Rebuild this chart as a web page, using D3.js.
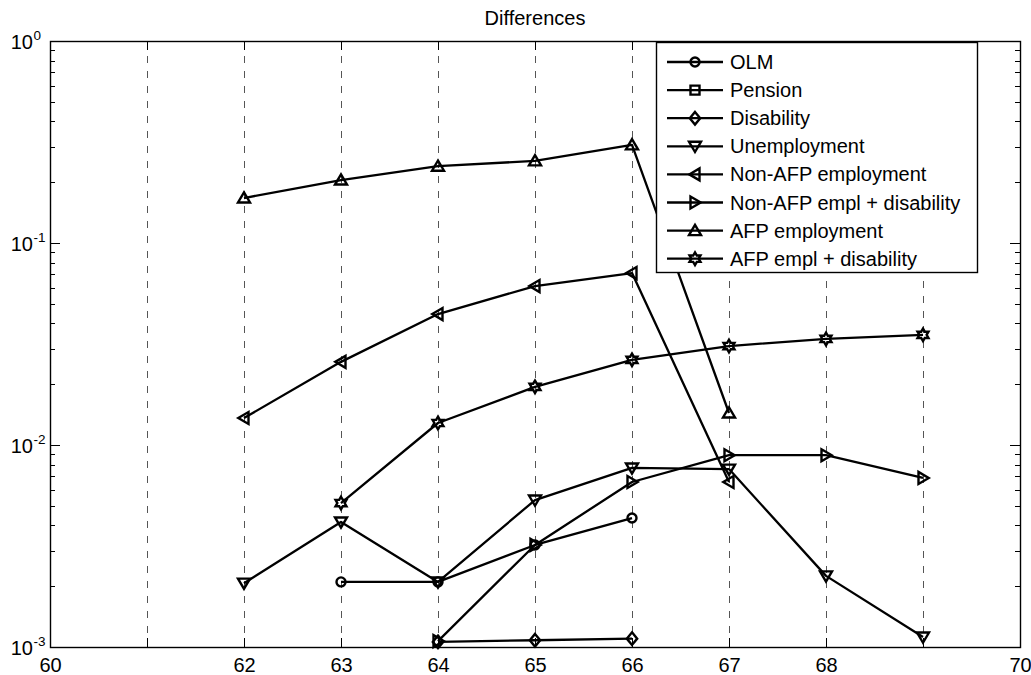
<!DOCTYPE html>
<html>
<head>
<meta charset="utf-8">
<script src="https://cdn.jsdelivr.net/npm/d3@7"></script>
<style>
  html, body { margin: 0; padding: 0; background: #fff; }
  svg { display: block; font-family: "Liberation Sans", Arial, Helvetica, sans-serif; }
</style>
</head>
<body>
<svg id="chart" width="1031" height="675"></svg>
<script>
// ---------------- data ----------------
const chartTitle = "Differences";
const seriesNames = ["OLM", "Pension", "Disability", "Unemployment",
  "Non-AFP employment", "Non-AFP empl + disability", "AFP employment", "AFP empl + disability"];
const seriesMarkers = ["circle", "square", "diamond", "triDown", "triLeft", "triRight", "triUp", "hexagram"];

const olmAges = [63, 64, 65, 66];
const olmValues = [0.0021, 0.0021, 0.0032, 0.00435];

const pensionAges = [];
const pensionValues = [];

const disabilityAges = [64, 65, 66];
const disabilityValues = [0.00106, 0.00108, 0.0011];

const unemploymentAges = [62, 63, 64, 65, 66, 67, 68, 69];
const unemploymentValues = [0.00207, 0.00416, 0.0021, 0.00534, 0.0077, 0.0076, 0.00225, 0.00112];

const nonAfpEmplAges = [62, 63, 64, 65, 66, 67];
const nonAfpEmplValues = [0.0136, 0.0258, 0.0445, 0.0612, 0.071, 0.00656];

const nonAfpEmplDisAges = [64, 65, 66, 67, 68, 69];
const nonAfpEmplDisValues = [0.00107, 0.0032, 0.00656, 0.0089, 0.0089, 0.00687];

const afpEmplAges = [62, 63, 64, 65, 66, 67];
const afpEmplValues = [0.167, 0.205, 0.240, 0.255, 0.306, 0.0144];

const afpEmplDisAges = [63, 64, 65, 66, 67, 68, 69];
const afpEmplDisValues = [0.00516, 0.01285, 0.0194, 0.0264, 0.0309, 0.0335, 0.0351];

const xTickLabels = [60, 62, 63, 64, 65, 66, 67, 68, 70];
const xGridValues = [61, 62, 63, 64, 65, 66, 67, 68, 69];
const yMajorTicks = [1e-3, 1e-2, 1e-1, 1];
const yTickExponents = ["-3", "-2", "-1", "0"];

// ---------------- layout ----------------
const svg = d3.select("#chart");
const L = 50, R = 1020, T = 41, B = 647;
const x = d3.scaleLinear().domain([60, 70]).range([L, R]);
const y = d3.scaleLog().domain([1e-3, 1]).range([B, T]);

const allSeries = [
  [olmAges, olmValues], [pensionAges, pensionValues], [disabilityAges, disabilityValues],
  [unemploymentAges, unemploymentValues], [nonAfpEmplAges, nonAfpEmplValues],
  [nonAfpEmplDisAges, nonAfpEmplDisValues], [afpEmplAges, afpEmplValues], [afpEmplDisAges, afpEmplDisValues]
].map((s, i) => ({ name: seriesNames[i], marker: seriesMarkers[i],
  points: s[0].map((a, j) => ({ age: a, value: s[1][j] })) }));

// background
svg.append("rect").attr("x", L).attr("y", T).attr("width", R - L).attr("height", B - T).attr("fill", "#fff");

// grid
svg.append("g").selectAll("line").data(xGridValues).join("line")
  .attr("x1", d => x(d) + 0.5).attr("x2", d => x(d) + 0.5)
  .attr("y1", T).attr("y2", B)
  .attr("stroke", "#555").attr("stroke-width", 1).attr("stroke-dasharray", "7,8");

// minor y ticks
const yMinor = [];
[1e-3, 1e-2, 1e-1].forEach(p => { for (let k = 2; k <= 9; k++) yMinor.push(p * k); });

const axisG = svg.append("g").attr("stroke", "#000").attr("stroke-width", 1);
axisG.selectAll(".ymin-l").data(yMinor).join("line")
  .attr("x1", L).attr("x2", L + 5).attr("y1", d => Math.round(y(d)) + 0.5).attr("y2", d => Math.round(y(d)) + 0.5);
axisG.selectAll(".ymin-r").data(yMinor).join("line")
  .attr("x1", R).attr("x2", R - 5).attr("y1", d => Math.round(y(d)) + 0.5).attr("y2", d => Math.round(y(d)) + 0.5);
axisG.selectAll(".ymaj-l").data(yMajorTicks).join("line")
  .attr("x1", L).attr("x2", L + 10).attr("y1", d => Math.round(y(d)) + 0.5).attr("y2", d => Math.round(y(d)) + 0.5);
axisG.selectAll(".ymaj-r").data(yMajorTicks).join("line")
  .attr("x1", R).attr("x2", R - 10).attr("y1", d => Math.round(y(d)) + 0.5).attr("y2", d => Math.round(y(d)) + 0.5);
// x ticks top & bottom
const xTickAll = [60].concat(xGridValues).concat([70]);
axisG.selectAll(".xt-b").data(xTickAll).join("line")
  .attr("x1", d => x(d) + 0.5).attr("x2", d => x(d) + 0.5).attr("y1", B).attr("y2", B - 9);
axisG.selectAll(".xt-t").data(xTickAll).join("line")
  .attr("x1", d => x(d) + 0.5).attr("x2", d => x(d) + 0.5).attr("y1", T).attr("y2", T + 9);

// axis box
svg.append("rect").attr("x", L + 0.5).attr("y", T + 0.5).attr("width", R - L).attr("height", B - T)
  .attr("fill", "none").attr("stroke", "#000").attr("stroke-width", 1.4);

// x tick labels via d3 axis
const xAxis = d3.axisBottom(x).tickValues(xTickLabels).tickFormat(d3.format("d")).tickSize(0).tickPadding(11);
const xg = svg.append("g").attr("transform", `translate(0,${B})`).call(xAxis);
xg.select(".domain").remove();
xg.selectAll("text").attr("font-size", 20).attr("fill", "#000")
  .attr("font-family", "Liberation Sans, Arial, sans-serif");

// y tick labels (10^k)
const yl = svg.append("g").attr("fill", "#000");
yMajorTicks.forEach((v, i) => {
  const yy = y(v);
  yl.append("text").attr("x", 33).attr("y", yy + 8).attr("text-anchor", "end")
    .attr("font-size", 20).text("10");
  yl.append("text").attr("x", 33.5).attr("y", yy - 1).attr("text-anchor", "start")
    .attr("font-size", 13.5).text(yTickExponents[i]);
});

// title
svg.append("text").attr("x", (L + R) / 2).attr("y", 25).attr("text-anchor", "middle")
  .attr("font-size", 20).attr("fill", "#000").text(chartTitle);

// marker shapes
function markerPath(type) {
  const s = 6;
  switch (type) {
    case "circle": { const r = 4.5; return `M${r},0A${r},${r} 0 1,1 ${-r},0A${r},${r} 0 1,1 ${r},0Z`; }
    case "square": return `M-4.5,-4.5H4.5V4.5H-4.5Z`;
    case "diamond": return `M0,-6.3L5.2,0L0,6.3L-5.2,0Z`;
    case "triDown": return `M-${s},-${s*0.75}L${s},-${s*0.75}L0,${s*0.95}Z`;
    case "triUp": return `M-${s},${s*0.75}L${s},${s*0.75}L0,-${s*0.95}Z`;
    case "triLeft": return `M${s*0.75},-${s}L${s*0.75},${s}L-${s*0.95},0Z`;
    case "triRight": return `M-${s*0.75},-${s}L-${s*0.75},${s}L${s*0.95},0Z`;
    case "hexagram": {
      const ro = 6.3, ri = 6.3 / Math.sqrt(3);
      let p = "";
      for (let k = 0; k < 12; k++) {
        const a = -Math.PI / 2 + k * Math.PI / 6;
        const r = k % 2 === 0 ? ro : ri;
        p += (k === 0 ? "M" : "L") + (r * Math.cos(a)).toFixed(2) + "," + (r * Math.sin(a)).toFixed(2);
      }
      return p + "Z";
    }
  }
}

// lines & markers
const line = d3.line().x(d => x(d.age)).y(d => y(d.value));
const plot = svg.append("g");
allSeries.forEach(s => {
  if (!s.points.length) return;
  plot.append("path").datum(s.points).attr("d", line)
    .attr("fill", "none").attr("stroke", "#000").attr("stroke-width", 2.3).attr("stroke-linejoin", "round");
  plot.selectAll(null).data(s.points).join("path")
    .attr("transform", d => `translate(${x(d.age)},${y(d.value)})`)
    .attr("d", markerPath(s.marker))
    .attr("fill", "none").attr("stroke", "#000").attr("stroke-width", 2.4).attr("stroke-linejoin", "miter");
});

// legend
const lg = svg.append("g");
const LX = 656, LY = 42, LW = 321, LH = 230;
lg.append("rect").attr("x", LX + 0.5).attr("y", LY + 0.5).attr("width", LW).attr("height", LH)
  .attr("fill", "#fff").attr("stroke", "#000").attr("stroke-width", 1.4);
allSeries.forEach((s, i) => {
  const cy = 62 + i * 28.1;
  lg.append("line").attr("x1", 667).attr("x2", 723).attr("y1", cy).attr("y2", cy)
    .attr("stroke", "#000").attr("stroke-width", 2.3);
  lg.append("path").attr("transform", `translate(695,${cy})`).attr("d", markerPath(s.marker))
    .attr("fill", "none").attr("stroke", "#000").attr("stroke-width", 2.4);
  lg.append("text").attr("x", 730).attr("y", cy + 7).attr("font-size", 20).attr("fill", "#000").text(s.name);
});
</script>
</body>
</html>
